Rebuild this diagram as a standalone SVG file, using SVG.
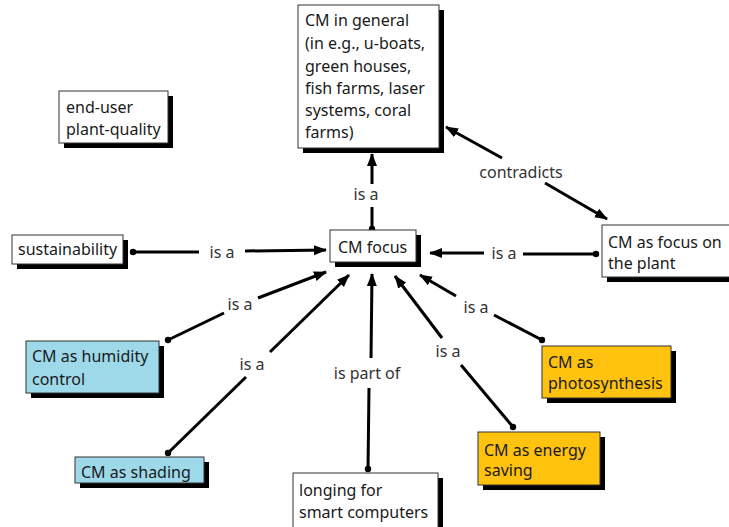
<svg xmlns="http://www.w3.org/2000/svg" width="729" height="527" viewBox="0 0 729 527">
<style>
.box{stroke:#333;stroke-width:1}
.w{fill:#fff}
.b{fill:#9ed9ea}
.y{fill:#ffc20e}
.sh{fill:#000}
.t{font-family:"Noto Sans","Open Sans",sans-serif;font-size:16px;fill:#1a1a1a}
.lbl{font-family:"Noto Sans","Open Sans",sans-serif;font-size:16px;fill:#333;text-anchor:middle}
.ln{stroke:#000;stroke-width:3;fill:none}
</style>
<defs>
<marker id="ah" markerUnits="userSpaceOnUse" markerWidth="13" markerHeight="11" refX="12" refY="5.5" orient="auto"><path d="M0,0.5 L13,5.5 L0,10.5 z" fill="#000"/></marker>
<marker id="dot" markerUnits="userSpaceOnUse" markerWidth="8" markerHeight="8" refX="4" refY="4"><circle cx="4" cy="4" r="3.2" fill="#000"/></marker>
</defs>
<rect width="729" height="527" fill="#fff"/>
<g id="connectors">
<!-- CM focus is a CM in general -->
<line class="ln" x1="372" y1="229" x2="372" y2="207" marker-start="url(#dot)"/>
<line class="ln" x1="372" y1="184" x2="372" y2="154" marker-end="url(#ah)"/>
<text class="lbl" x="366" y="200">is a</text>
<!-- contradicts -->
<line class="ln" x1="502" y1="158" x2="446" y2="127" marker-end="url(#ah)"/>
<line class="ln" x1="545" y1="183" x2="607" y2="219" marker-end="url(#ah)"/>
<text class="lbl" x="521" y="178">contradicts</text>
<!-- sustainability -->
<line class="ln" x1="133" y1="252" x2="199" y2="252" marker-start="url(#dot)"/>
<line class="ln" x1="245" y1="251" x2="326" y2="250" marker-end="url(#ah)"/>
<text class="lbl" x="222" y="258">is a</text>
<!-- focus on plant -->
<line class="ln" x1="596" y1="254" x2="523" y2="254" marker-start="url(#dot)"/>
<line class="ln" x1="484" y1="253" x2="430" y2="253" marker-end="url(#ah)"/>
<text class="lbl" x="504" y="259">is a</text>
<!-- humidity -->
<line class="ln" x1="168" y1="340" x2="224" y2="313" marker-start="url(#dot)"/>
<line class="ln" x1="258" y1="298" x2="326" y2="272" marker-end="url(#ah)"/>
<text class="lbl" x="240" y="310">is a</text>
<!-- shading -->
<line class="ln" x1="168" y1="453" x2="246" y2="377" marker-start="url(#dot)"/>
<line class="ln" x1="270" y1="352" x2="349" y2="275" marker-end="url(#ah)"/>
<text class="lbl" x="252" y="370">is a</text>
<!-- longing -->
<line class="ln" x1="368" y1="469" x2="369" y2="388" marker-start="url(#dot)"/>
<line class="ln" x1="371" y1="358" x2="372" y2="274" marker-end="url(#ah)"/>
<text class="lbl" x="367" y="379">is part of</text>
<!-- energy -->
<line class="ln" x1="513" y1="427" x2="461" y2="365" marker-start="url(#dot)"/>
<line class="ln" x1="442" y1="338" x2="395" y2="276" marker-end="url(#ah)"/>
<text class="lbl" x="448" y="357">is a</text>
<!-- photosynthesis -->
<line class="ln" x1="542" y1="340" x2="494" y2="315" marker-start="url(#dot)"/>
<line class="ln" x1="456" y1="296" x2="420" y2="275" marker-end="url(#ah)"/>
<text class="lbl" x="476" y="313">is a</text>
</g>
<g id="cm-general">
<rect class="sh" x="303" y="10" width="141" height="143"/>
<rect class="box w" x="298" y="5" width="141" height="143"/>
<text class="t" x="305" y="26">CM in general</text>
<text class="t" x="305" y="49">(in e.g., u-boats,</text>
<text class="t" x="305" y="72">green houses,</text>
<text class="t" x="305" y="94">fish farms, laser</text>
<text class="t" x="305" y="116">systems, coral</text>
<text class="t" x="305" y="138">farms)</text>
</g>
<g id="end-user">
<rect class="sh" x="64" y="96" width="109" height="52"/>
<rect class="box w" x="59" y="91" width="109" height="52"/>
<text class="t" x="66" y="113">end-user</text>
<text class="t" x="66" y="135">plant-quality</text>
</g>
<g id="sustainability">
<rect class="sh" x="17" y="240" width="111" height="29"/>
<rect class="box w" x="12" y="235" width="111" height="29"/>
<text class="t" x="18" y="255">sustainability</text>
</g>
<g id="cm-focus">
<rect class="sh" x="335" y="235" width="86" height="32"/>
<rect class="box w" x="330" y="230" width="86" height="32"/>
<text class="t" x="338" y="253">CM focus</text>
</g>
<g id="cm-plant">
<rect class="sh" x="607" y="230" width="135" height="52"/>
<rect class="box w" x="602" y="225" width="135" height="52"/>
<text class="t" x="608" y="248">CM as focus on</text>
<text class="t" x="608" y="269">the plant</text>
</g>
<g id="cm-humidity">
<rect class="sh" x="31" y="346" width="133" height="52"/>
<rect class="box b" x="26" y="341" width="133" height="52"/>
<text class="t" x="32" y="362">CM as humidity</text>
<text class="t" x="32" y="385">control</text>
</g>
<g id="cm-shading">
<rect class="sh" x="80" y="462" width="129" height="26"/>
<rect class="box b" x="75" y="457" width="129" height="26"/>
<text class="t" x="81" y="478">CM as shading</text>
</g>
<g id="longing">
<rect class="sh" x="298" y="478" width="145" height="60"/>
<rect class="box w" x="293" y="473" width="145" height="60"/>
<text class="t" x="299" y="496">longing for</text>
<text class="t" x="299" y="518">smart computers</text>
</g>
<g id="cm-energy">
<rect class="sh" x="483" y="437" width="122" height="53"/>
<rect class="box y" x="478" y="432" width="122" height="53"/>
<text class="t" x="484" y="456">CM as energy</text>
<text class="t" x="484" y="476">saving</text>
</g>
<g id="cm-photo">
<rect class="sh" x="547" y="351" width="129" height="52"/>
<rect class="box y" x="542" y="346" width="129" height="52"/>
<text class="t" x="548" y="368">CM as</text>
<text class="t" x="548" y="389">photosynthesis</text>
</g>
</svg>
